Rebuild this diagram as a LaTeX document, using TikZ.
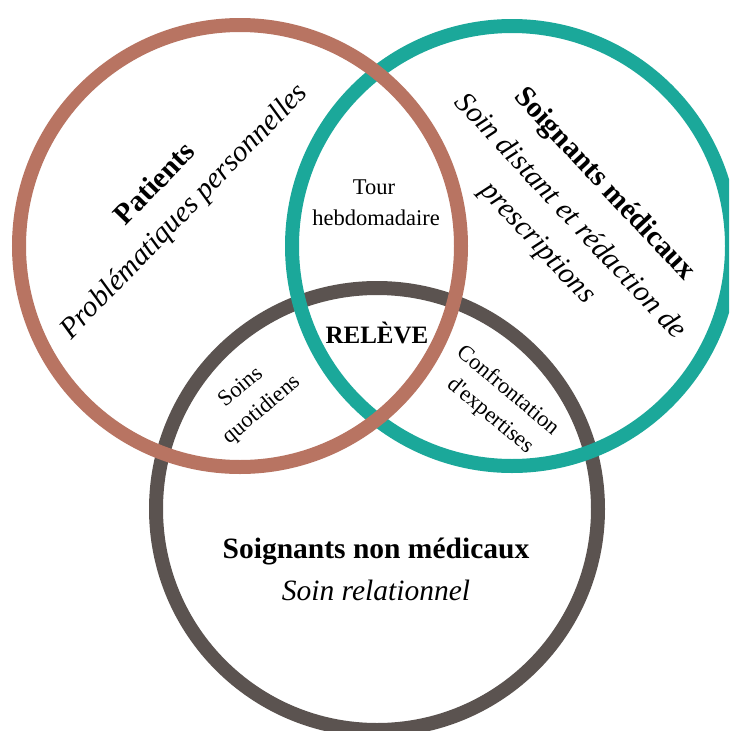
\documentclass[tikz,border=0pt]{standalone}
\usepackage{fontspec}
\setmainfont{Liberation Serif}[Ligatures=TeXOff]
\definecolor{patred}{HTML}{B87462}
\definecolor{medteal}{HTML}{1BA89A}
\definecolor{nmgray}{HTML}{5B5350}
\begin{document}
\begin{tikzpicture}[x=1pt,y=-1pt,
  ring/.style={line width=14pt},
  big/.style={font=\fontsize{29.5}{35}\selectfont, inner sep=0pt},
  small/.style={font=\fontsize{22.5}{27}\selectfont, inner sep=0pt}]
\useasboundingbox (0,0) rectangle (729,731);
\fill[white] (0,0) rectangle (729,731);
\clip (0,0) rectangle (729,731);
% circles (gray under teal under red)
\draw[ring, nmgray] (377,509) circle[radius=221];
\draw[ring, medteal] (512,246) circle[radius=220];
\draw[ring, patred] (240,246) circle[radius=221];
% Patients
\node[big, rotate=46] (pat) at (154,183) {\textbf{Patients}};
\node[big, rotate=46] (patsub) at (185,212) {\textit{Problématiques personnelles}};
% Soignants medicaux
\node[big, rotate=-47] (med) at (604,185) {\textbf{Soignants médicaux}};
\node[big, rotate=-47] (medsub1) at (572,215) {\textit{Soin distant et rédaction de}};
\node[big, rotate=-47] (medsub2) at (537,244) {\textit{prescriptions}};
% Soignants non medicaux
\node[big, anchor=base] (nm) at (376,558) {\textbf{Soignants non médicaux}};
\node[big, anchor=base] (nmsub) at (376,600) {\textit{Soin relationnel}};
% intersections
\node[small, anchor=base] (tour1) at (374,194) {Tour};
\node[small, anchor=base] (tour2) at (376,225) {hebdomadaire};
\node[font=\fontsize{25}{30}\selectfont, inner sep=0pt, anchor=base] (rel) at (377,343) {\textbf{RELÈVE}};
\node[small, rotate=40] (soins1) at (240,386) {Soins};
\node[small, rotate=40] (soins2) at (262,410) {quotidiens};
\node[small, rotate=-40] (conf1) at (509,389) {Confrontation};
\node[small, rotate=-40] (conf2) at (490,416) {d'expertises};
\end{tikzpicture}
\end{document}
